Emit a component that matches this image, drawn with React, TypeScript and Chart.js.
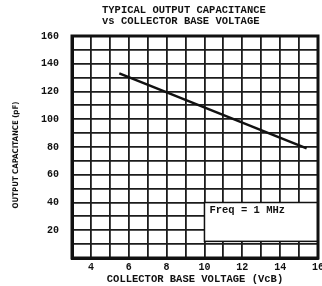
import React, { useEffect, useRef } from 'react';
import { Chart, registerables } from 'chart.js';

Chart.register(...registerables);

const titleLines = ['TYPICAL OUTPUT CAPACITANCE', 'vs COLLECTOR BASE VOLTAGE'];
const xAxisTitle = 'COLLECTOR BASE VOLTAGE (VcB)';
const yAxisTitle = 'OUTPUT CAPACITANCE (pF)';
const voltage = [5.5, 15.4];
const capacitance = [133, 79];
const xTickLabels = [4, 6, 8, 10, 12, 14, 16];
const yTickLabels = [20, 40, 60, 80, 100, 120, 140, 160];
const noteText = 'Freq = 1 MHz';
const noteX = [10, 16];
const noteY = [12, 40];

const INK = '#111111';
const MONO = '"Liberation Mono", "DejaVu Sans Mono", monospace';
const NARROW = '"DejaVu Sans Condensed", "DejaVu Sans", sans-serif';

const overlay = {
  id: 'overlay',
  beforeDatasetsDraw(chart: any) {
    const { ctx, scales } = chart;
    const x0 = scales.x.getPixelForValue(noteX[0]);
    const x1 = scales.x.getPixelForValue(noteX[1]);
    const y0 = scales.y.getPixelForValue(noteY[1]);
    const y1 = scales.y.getPixelForValue(noteY[0]);
    ctx.save();
    ctx.fillStyle = '#ffffff';
    ctx.fillRect(x0, y0, x1 - x0, y1 - y0);
    ctx.strokeStyle = INK;
    ctx.lineWidth = 1.5;
    ctx.strokeRect(x0, y0, x1 - x0, y1 - y0);
    ctx.fillStyle = INK;
    ctx.font = `bold 10.5px ${MONO}`;
    ctx.textAlign = 'left';
    ctx.textBaseline = 'middle';
    ctx.fillText(noteText, x0 + 5, y0 + 8);
    ctx.restore();
  },
  afterDraw(chart: any) {
    const { ctx, chartArea } = chart;
    ctx.save();
    ctx.strokeStyle = INK;
    ctx.lineWidth = 3;
    ctx.strokeRect(chartArea.left, chartArea.top, chartArea.right - chartArea.left, chartArea.bottom - chartArea.top);
    ctx.fillStyle = INK;
    ctx.font = `bold 10.5px ${MONO}`;
    ctx.textAlign = 'left';
    ctx.textBaseline = 'middle';
    ctx.fillText(titleLines[0], 102, 10.5);
    ctx.fillText(titleLines[1], 102, 21);
    ctx.translate(16, 155);
    ctx.rotate(-Math.PI / 2);
    ctx.textAlign = 'center';
    ctx.font = `bold 7.8px ${NARROW}`;
    ctx.fillText(yAxisTitle, 0, 0);
    ctx.restore();
  },
};

export default function App() {
  const ref = useRef<HTMLCanvasElement>(null);
  useEffect(() => {
    document.body.style.margin = '0';
    const chart = new Chart(ref.current as HTMLCanvasElement, {
      type: 'line',
      data: {
        datasets: [
          {
            data: voltage.map((v, i) => ({ x: v, y: capacitance[i] })),
            borderColor: INK,
            borderWidth: 2.5,
            pointRadius: 0,
            fill: false,
            tension: 0,
          },
        ],
      },
      options: {
        animation: false,
        responsive: true,
        maintainAspectRatio: false,
        layout: { padding: { top: 36, right: 4, left: 0, bottom: 0 }, autoPadding: false } as any,
        plugins: { legend: { display: false }, tooltip: { enabled: false }, title: { display: false } },
        scales: {
          x: {
            type: 'linear',
            min: 3,
            max: 16,
            afterFit: (s: any) => {
              s.height = 28;
              s.paddingLeft = 0;
              s.paddingRight = 0;
            },
            ticks: {
              stepSize: 1,
              autoSkip: false,
              maxRotation: 0,
              padding: 3,
              color: INK,
              font: { family: MONO, size: 10, weight: 'bold' },
              callback: (v: any) => (xTickLabels.includes(Number(v)) ? String(v) : ''),
            },
            grid: { color: '#1c1c1c', lineWidth: 1.8, drawTicks: false },
            border: { display: true, color: INK, width: 3 },
            title: {
              display: true,
              text: xAxisTitle,
              color: INK,
              font: { family: MONO, size: 10.5, weight: 'bold', lineHeight: 1 },
              padding: { top: 0, bottom: 1 },
            },
          },
          y: {
            type: 'linear',
            min: 0,
            max: 160,
            afterFit: (s: any) => {
              s.width = 72;
              s.paddingTop = 0;
              s.paddingBottom = 0;
            },
            ticks: {
              stepSize: 10,
              autoSkip: false,
              padding: 13,
              color: INK,
              font: { family: MONO, size: 10, weight: 'bold' },
              callback: (v: any) => (yTickLabels.includes(Number(v)) ? String(v) : ''),
            },
            grid: { color: '#1c1c1c', lineWidth: 1.8, drawTicks: false },
            border: { display: true, color: INK, width: 3 },
            title: { display: false },
          },
        },
      },
      plugins: [overlay],
    } as any);
    return () => chart.destroy();
  }, []);
  return (
    <div style={{ position: 'relative', width: 322, height: 286 }}>
      <canvas ref={ref} />
    </div>
  );
}
